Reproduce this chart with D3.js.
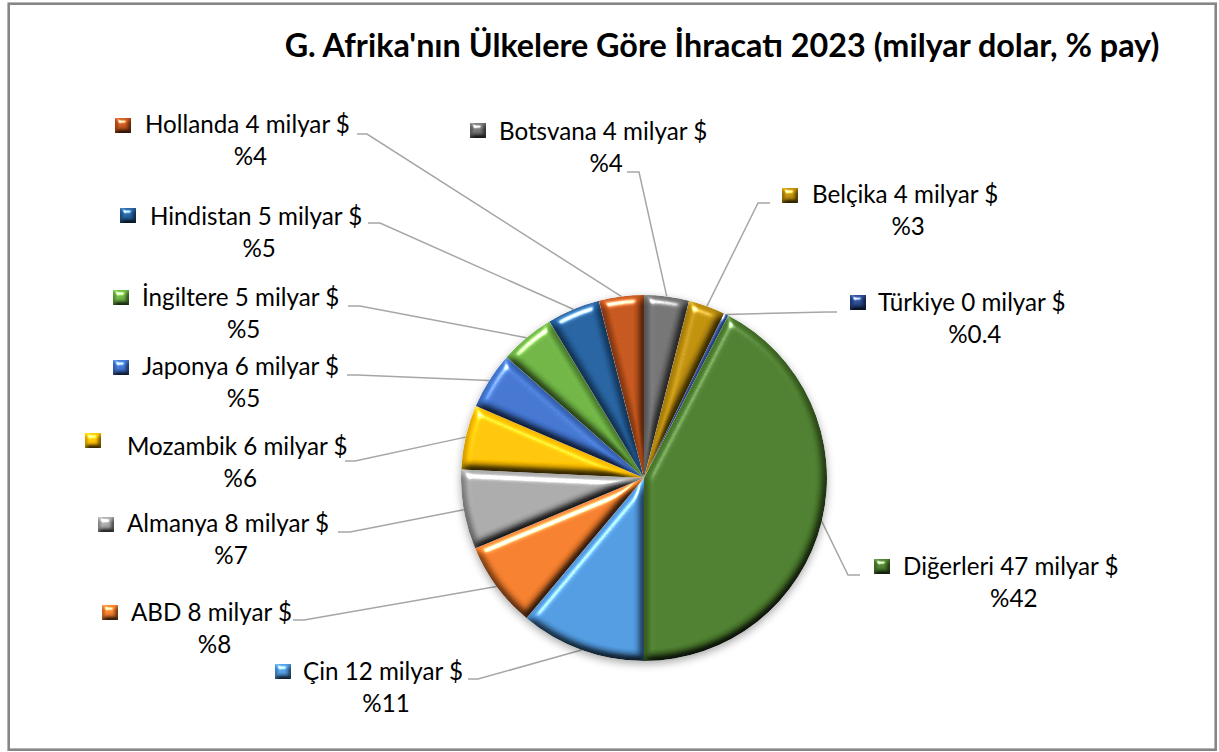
<!DOCTYPE html>
<html lang="tr">
<head>
  <meta charset="UTF-8">
  <title>G. Afrika ihracat pasta</title>
  <script src="https://cdn.jsdelivr.net/npm/d3@7"></script>
  <style>
    body { margin: 0; background: #fff; }
    svg text { font-family: Lato, "Noto Sans", sans-serif; fill: #000; }
  </style>
</head>
<body>
<script>
  // veri (Excel sırası: Çin ile başlar, saat 6 yönünden saat yönünde)
  const categories = ['Çin', 'ABD', 'Almanya', 'Mozambik', 'Japonya', 'İngiltere', 'Hindistan', 'Hollanda', 'Botsvana', 'Belçika', 'Türkiye', 'Diğerleri'];
  const values = [12.3, 8.45, 7.8, 6.3, 5.6, 5.4, 5.2, 4.4, 4.4, 3.6, 0.45, 47.0];
  const colors = ['#4f97dc', '#ef7b2b', '#a6a6a6', '#ffc000', '#4072cc', '#6cb042', '#245f9c', '#c0531a', '#707070', '#bb8c0a', '#26458a', '#4a7a2c'];
  const title = "G. Afrika'nın Ülkelere Göre İhracatı 2023 (milyar dolar, % pay)";

  // etiket yerleşimi (Excel'de elle taşınmış kutular)
  const labelPos = {
    'Hollanda':  { mx: 115, my: 118, tx: 145, ty: 133, lx: 357, ly: 134, dx: 10 },
    'Botsvana':  { mx: 470, my: 123, tx: 499, ty: 140, lx: 627, ly: 172, dx: 12 },
    'Belçika':   { mx: 782, my: 188, tx: 812, ty: 203, lx: 770, ly: 203, dx: -12 },
    'Türkiye':   { mx: 850, my: 295, tx: 878, ty: 311, lx: 837, ly: 312, dx: -10 },
    'Diğerleri': { mx: 874, my: 559, tx: 903, ty: 575, lx: 860, ly: 575, dx: -12 },
    'Hindistan': { mx: 120, my: 208, tx: 150, ty: 225, lx: 368, ly: 223, dx: 12 },
    'İngiltere': { mx: 113, my: 290, tx: 142, ty: 306, lx: 348, ly: 306, dx: 12 },
    'Japonya':   { mx: 113, my: 360, tx: 142, ty: 375, lx: 347, ly: 375, dx: 10 },
    'Mozambik':  { mx: 85,  my: 433, tx: 127, ty: 455, lx: 345, ly: 461, dx: 10 },
    'Almanya':   { mx: 98,  my: 517, tx: 127, ty: 532, lx: 338, ly: 532, dx: 12 },
    'ABD':       { mx: 102, my: 605, tx: 131, ty: 621, lx: 293, ly: 620, dx: 11 },
    'Çin':       { mx: 275, my: 664, tx: 303, ty: 680, lx: 468, ly: 679, dx: 10 }
  };

  const W = 1219, H = 752;
  const cx = 644, cy = 478, R = 183;

  const data = categories.map((c, i) => ({ name: c, value: values[i], color: colors[i] }));
  const total = d3.sum(values);
  const fmtAmt = d3.format('.0f');
  const pctText = v => {
    const p = v / total * 100;
    return '%' + (p < 1 ? d3.format('.1f')(p) : d3.format('.0f')(p));
  };

  const svg = d3.select('body').append('svg')
    .attr('width', W).attr('height', H)
    .attr('viewBox', [0, 0, W, H]);

  const defs = svg.append('defs');

  // eğim (bevel) efekti
  function bevel(id, blur, scale) {
    const f = defs.append('filter').attr('id', id)
      .attr('x', '-10%').attr('y', '-10%').attr('width', '120%').attr('height', '120%')
      .attr('color-interpolation-filters', 'sRGB');
    f.append('feGaussianBlur').attr('in', 'SourceAlpha').attr('stdDeviation', blur).attr('result', 'b');
    f.append('feDiffuseLighting').attr('in', 'b').attr('surfaceScale', scale)
      .attr('diffuseConstant', 1.16).attr('lighting-color', '#fff').attr('result', 'd')
      .append('feDistantLight').attr('azimuth', 250).attr('elevation', 60);
    f.append('feSpecularLighting').attr('in', 'b').attr('surfaceScale', scale)
      .attr('specularConstant', 1.0).attr('specularExponent', 30)
      .attr('lighting-color', '#fff').attr('result', 's')
      .append('feDistantLight').attr('azimuth', 250).attr('elevation', 35);
    f.append('feComposite').attr('in', 'SourceGraphic').attr('in2', 'd')
      .attr('operator', 'arithmetic').attr('k1', 1).attr('result', 'lit');
    f.append('feComposite').attr('in', 's').attr('in2', 'SourceAlpha')
      .attr('operator', 'in').attr('result', 's2');
    f.append('feComposite').attr('in', 'lit').attr('in2', 's2')
      .attr('operator', 'arithmetic').attr('k2', 1).attr('k3', 1).attr('result', 'o');
    f.append('feComposite').attr('in', 'o').attr('in2', 'SourceAlpha').attr('operator', 'in');
  }
  bevel('bevel', 4, 7);
  bevel('bevelKey', 2.5, 4);

  const shadow = defs.append('filter').attr('id', 'shadow')
    .attr('x', '-10%').attr('y', '-10%').attr('width', '120%').attr('height', '125%');
  shadow.append('feDropShadow').attr('dx', 0).attr('dy', 3).attr('stdDeviation', 4)
    .attr('flood-color', '#000').attr('flood-opacity', 0.35);

  // çerçeve
  svg.append('rect')
    .attr('x', 8.7).attr('y', 3.7).attr('width', 1207).attr('height', 746)
    .attr('fill', '#fff').attr('stroke', '#868686').attr('stroke-width', 2.6);

  // yazı boyutunu ölçerek ayarla
  function fitSize(str, weight, target) {
    const t = svg.append('text').attr('font-size', 100).attr('font-weight', weight).text(str);
    const w = t.node().getComputedTextLength();
    t.remove();
    return 100 * target / w;
  }
  const titleSize = fitSize(title, 'bold', 875);
  const labelSize = fitSize('Hollanda 4 milyar $', 'normal', 205);

  svg.append('text')
    .attr('x', 722).attr('y', 57)
    .attr('text-anchor', 'middle')
    .attr('font-weight', 'bold')
    .attr('font-size', titleSize)
    .text(title);

  const pie = d3.pie().value(d => d.value).sort(null)
    .startAngle(Math.PI).endAngle(3 * Math.PI);
  const arcs = pie(data);
  const arc = d3.arc().innerRadius(0).outerRadius(R);
  const edge = d3.arc().innerRadius(R).outerRadius(R);

  // yönlendirme çizgileri
  svg.append('g')
    .attr('fill', 'none').attr('stroke', '#a6a6a6').attr('stroke-width', 1.5)
    .selectAll('path')
    .data(arcs)
    .join('path')
    .attr('d', d => {
      const p = labelPos[d.data.name];
      const [ex, ey] = edge.centroid(d);
      return `M${p.lx},${p.ly}H${p.lx + p.dx}L${cx + ex},${cy + ey}`;
    });

  // dilimler
  svg.append('g')
    .attr('transform', `translate(${cx},${cy})`)
    .attr('filter', 'url(#shadow)')
    .selectAll('path')
    .data(arcs)
    .join('path')
    .attr('d', arc)
    .attr('fill', d => d.data.color)
    .attr('filter', 'url(#bevel)');

  // etiketler
  const lab = svg.append('g').attr('font-size', labelSize)
    .selectAll('g')
    .data(arcs)
    .join('g');

  lab.append('rect')
    .attr('x', d => labelPos[d.data.name].mx)
    .attr('y', d => labelPos[d.data.name].my)
    .attr('width', 16).attr('height', 15)
    .attr('fill', d => d.data.color)
    .attr('filter', 'url(#bevelKey)');

  lab.append('text')
    .attr('class', 'line1')
    .attr('x', d => labelPos[d.data.name].tx)
    .attr('y', d => labelPos[d.data.name].ty)
    .text(d => `${d.data.name} ${fmtAmt(d.data.value)} milyar $`);

  lab.each(function(d) {
    const g = d3.select(this);
    const p = labelPos[d.data.name];
    const w = g.select('.line1').node().getComputedTextLength();
    g.append('text')
      .attr('x', p.tx + w / 2 + 3)
      .attr('y', p.ty + 32)
      .attr('text-anchor', 'middle')
      .text(pctText(d.data.value));
  });
</script>
</body>
</html>
